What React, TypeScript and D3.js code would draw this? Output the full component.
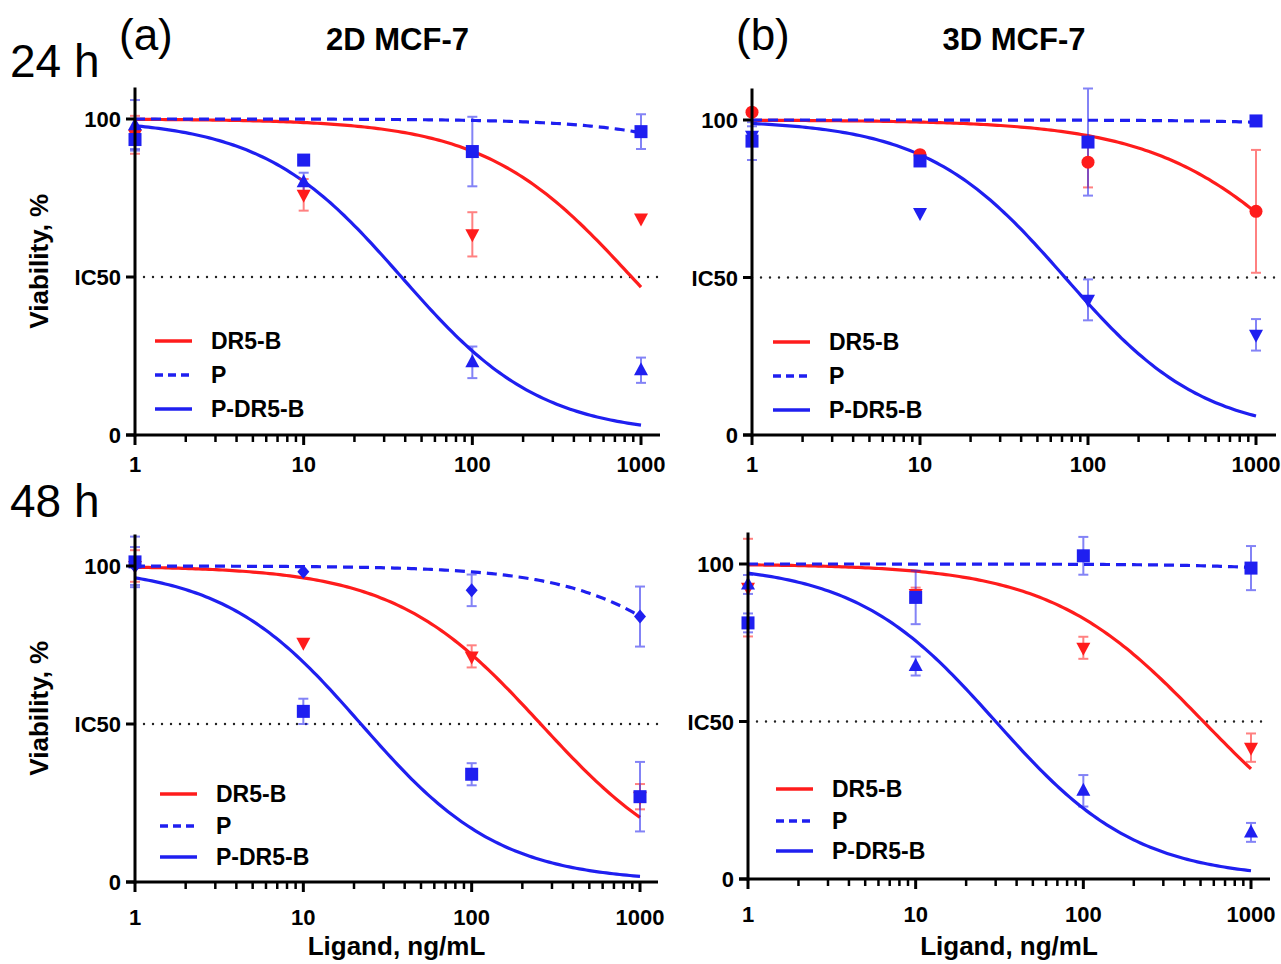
import React from "react";
import * as d3 from "d3";

// ---------- data ----------
const CONC = [1, 10, 100, 1000];
const X_TICKS = [1, 10, 100, 1000];
const Y_TICKS = [0, 50, 100];
const Y_TICK_LABELS = ["0", "IC50", "100"];
const SERIES = ["DR5-B", "P", "P-DR5-B"];
const PANEL_LETTERS = ["(a)", "(b)", "", ""];
const PANEL_TITLES = ["2D MCF-7", "3D MCF-7", "", ""];
const ROW_LABELS = ["24 h", "48 h"];

// markers per panel, order: DR5-B, P, P-DR5-B
const A_MARKERS = ["tridown", "square", "triup"];
const B_MARKERS = ["circle", "square", "tridown"];
const C_MARKERS = ["tridown", "diamond", "square"];
const D_MARKERS = ["tridown", "square", "triup"];

// (a) 24 h, 2D
const A_DR5B = [95, 76, 63.5, 68.5];
const A_DR5B_ERR = [6, 5, 7, 0];
const A_P = [93.5, 87, 89.7, 96];
const A_P_ERR = [3, 0, 11, 5.5];
const A_PDR5B = [98, 80, 23, 20.5];
const A_PDR5B_ERR = [8, 3, 5, 4];
const A_FIT_IC50 = [880, 22000, 38];
const A_FIT_HILL = [1, 1, 1.05];

// (b) 24 h, 3D
const B_DR5B = [102.5, 89, 86.6, 71];
const B_DR5B_ERR = [0, 0, 8, 19.5];
const B_P = [93.3, 87, 93, 99.7];
const B_P_ERR = [6, 0, 17, 0];
const B_PDR5B = [95, 70.5, 42.9, 31.8];
const B_PDR5B_ERR = [3, 0, 6.5, 5];
const B_FIT_IC50 = [2650, 140000, 73];
const B_FIT_HILL = [0.9, 1, 1.05];

// (c) 48 h, 2D
const C_DR5B = [100, 75.7, 71.4, 27];
const C_DR5B_ERR = [5, 0, 3.5, 4];
const C_P = [100, 98.2, 92.3, 84];
const C_P_ERR = [6, 0, 5, 9.5];
const C_PDR5B = [101.3, 54, 34.1, 27];
const C_PDR5B_ERR = [8, 4, 3.5, 11];
const C_FIT_IC50 = [257, 5300, 22];
const C_FIT_HILL = [1, 1, 1.05];

// (d) 48 h, 3D
const D_DR5B = [92.5, 90.5, 73.4, 41.7];
const D_DR5B_ERR = [15.5, 2, 3.5, 4.5];
const D_P = [81.3, 89.4, 102.6, 98.7];
const D_P_ERR = [3, 8.5, 6, 7];
const D_PDR5B = [93.5, 67.6, 28, 14.8];
const D_PDR5B_ERR = [3, 3, 5, 3];
const D_FIT_IC50 = [520, 90000, 30];
const D_FIT_HILL = [0.95, 1, 1.03];

const FIT_TOP = 100;
const FIT_BOTTOM = 0;

// ---------- styles ----------
const RED = "#ff1c1c";
const BLUE = "#1f1ff0";
const SERIES_COLORS = [RED, BLUE, BLUE];
const SERIES_DASH = [null, "10,6", null];
const FONT = "'Liberation Sans', Arial, Helvetica, sans-serif";

const PANELS = [
  { means: [A_DR5B, A_P, A_PDR5B], errs: [A_DR5B_ERR, A_P_ERR, A_PDR5B_ERR], ic50: A_FIT_IC50, hill: A_FIT_HILL, markers: A_MARKERS,
    x0: 135, x1: 641, xEnd: 660, y0: 435, y100: 119, leg: { lx: 155, rows: [341, 375, 409] }, ylab: true, xlab: false, tickY: 472 },
  { means: [B_DR5B, B_P, B_PDR5B], errs: [B_DR5B_ERR, B_P_ERR, B_PDR5B_ERR], ic50: B_FIT_IC50, hill: B_FIT_HILL, markers: B_MARKERS,
    x0: 752, x1: 1256, xEnd: 1276, y0: 435, y100: 120, leg: { lx: 773, rows: [342, 376, 410] }, ylab: false, xlab: false, tickY: 472 },
  { means: [C_DR5B, C_P, C_PDR5B], errs: [C_DR5B_ERR, C_P_ERR, C_PDR5B_ERR], ic50: C_FIT_IC50, hill: C_FIT_HILL, markers: C_MARKERS,
    x0: 135, x1: 640, xEnd: 658, y0: 882, y100: 566, leg: { lx: 160, rows: [794, 826, 857] }, ylab: true, xlab: true, tickY: 925 },
  { means: [D_DR5B, D_P, D_PDR5B], errs: [D_DR5B_ERR, D_P_ERR, D_PDR5B_ERR], ic50: D_FIT_IC50, hill: D_FIT_HILL, markers: D_MARKERS,
    x0: 748, x1: 1251, xEnd: 1270, y0: 879, y100: 564, leg: { lx: 776, rows: [789, 821, 851] }, ylab: false, xlab: true, tickY: 922 },
];

function fourPL(x: number, ic50: number, hill: number) {
  return FIT_BOTTOM + (FIT_TOP - FIT_BOTTOM) / (1 + Math.pow(x / ic50, hill));
}

function Marker({ kind, x, y, color }: { kind: string; x: number; y: number; color: string }) {
  if (kind === "square") return <rect x={x - 6.5} y={y - 6.5} width={13} height={13} fill={color} />;
  if (kind === "circle") return <circle cx={x} cy={y} r={6.5} fill={color} />;
  if (kind === "diamond") return <path d={`M${x},${y - 7}L${x + 6},${y}L${x},${y + 7}L${x - 6},${y}Z`} fill={color} />;
  if (kind === "triup") return <path d={`M${x},${y - 8}L${x + 7},${y + 5}L${x - 7},${y + 5}Z`} fill={color} />;
  return <path d={`M${x},${y + 8}L${x + 7},${y - 5}L${x - 7},${y - 5}Z`} fill={color} />;
}

function Panel({ p, idx }: { p: any; idx: number }) {
  const xs = d3.scaleLog().domain([1, 1000]).range([p.x0, p.x1]);
  const ys = d3.scaleLinear().domain([0, 100]).range([p.y0, p.y100]);
  const yTop = ys(110);
  const fitX = d3.range(0, 3.0001, 0.02).map((e) => Math.pow(10, e));
  const minor: number[] = [];
  [1, 10, 100].forEach((dec) => { for (let k = 2; k <= 9; k++) minor.push(dec * k); });

  const curves = SERIES.map((_, si) => {
    const pts = fitX.map((x) => [xs(x), ys(fourPL(x, p.ic50[si], p.hill[si]))] as [number, number]);
    return d3.line()(pts) as string;
  });

  return (
    <g>
      <line x1={p.x0} x2={p.xEnd} y1={ys(50)} y2={ys(50)} stroke="#222" strokeWidth={2.4} strokeDasharray="0,9" strokeLinecap="round" />
      {curves.map((d, si) => (
        <path key={si} d={d} fill="none" stroke={SERIES_COLORS[si]} strokeWidth={3.2} strokeDasharray={SERIES_DASH[si] || undefined} />
      ))}
      {SERIES.map((_, si) =>
        CONC.map((c, ci) => {
          const m = p.means[si][ci];
          const e = p.errs[si][ci];
          if (!e) return null;
          const x = xs(c);
          return (
            <g key={`e${si}-${ci}`} stroke={SERIES_COLORS[si]} strokeWidth={2} opacity={0.55}>
              <line x1={x} x2={x} y1={ys(m - e)} y2={ys(m + e)} />
              <line x1={x - 5} x2={x + 5} y1={ys(m - e)} y2={ys(m - e)} />
              <line x1={x - 5} x2={x + 5} y1={ys(m + e)} y2={ys(m + e)} />
            </g>
          );
        })
      )}
      {SERIES.map((_, si) =>
        CONC.map((c, ci) => (
          <Marker key={`m${si}-${ci}`} kind={p.markers[si]} x={xs(c)} y={ys(p.means[si][ci])} color={SERIES_COLORS[si]} />
        ))
      )}
      <g stroke="#000" strokeWidth={3} fill="none">
        <line x1={p.x0} x2={p.x0} y1={yTop} y2={p.y0 + 1.5} />
        <line x1={p.x0 - 9} x2={p.xEnd} y1={p.y0} y2={p.y0} />
        {Y_TICKS.map((t) => (
          <line key={t} x1={p.x0 - 9} x2={p.x0} y1={ys(t)} y2={ys(t)} />
        ))}
        {X_TICKS.map((t) => (
          <line key={t} x1={xs(t)} x2={xs(t)} y1={p.y0} y2={p.y0 + 10} />
        ))}
        {minor.map((t) => (
          <line key={"m" + t} x1={xs(t)} x2={xs(t)} y1={p.y0} y2={p.y0 + 7} strokeWidth={2.5} />
        ))}
      </g>
      {Y_TICKS.map((t, i) => (
        <text key={t} x={p.x0 - 14} y={ys(t) + 8} textAnchor="end" fontFamily={FONT} fontWeight="bold" fontSize={22}>
          {Y_TICK_LABELS[i]}
        </text>
      ))}
      {X_TICKS.map((t) => (
        <text key={t} x={xs(t)} y={p.tickY} textAnchor="middle" fontFamily={FONT} fontWeight="bold" fontSize={22}>
          {String(t)}
        </text>
      ))}
      {SERIES.map((s, si) => (
        <g key={s}>
          <line x1={p.leg.lx} x2={p.leg.lx + 37} y1={p.leg.rows[si]} y2={p.leg.rows[si]} stroke={SERIES_COLORS[si]} strokeWidth={3.5}
            strokeDasharray={SERIES_DASH[si] ? "8,5" : undefined} />
          <text x={p.leg.lx + 56} y={p.leg.rows[si] + 8} fontFamily={FONT} fontWeight="bold" fontSize={23}>{s}</text>
        </g>
      ))}
      {p.ylab && (
        <text transform={`translate(48,${(yTop + p.y0) / 2}) rotate(-90)`} textAnchor="middle" fontFamily={FONT} fontWeight="bold" fontSize={26}>
          Viability, %
        </text>
      )}
      {p.xlab && (
        <text x={(p.x0 + p.xEnd) / 2} y={955} textAnchor="middle" fontFamily={FONT} fontWeight="bold" fontSize={26}>
          Ligand, ng/mL
        </text>
      )}
      {PANEL_TITLES[idx] && (
        <text x={(p.x0 + p.xEnd) / 2} y={50} textAnchor="middle" fontFamily={FONT} fontWeight="bold" fontSize={31}>
          {PANEL_TITLES[idx]}
        </text>
      )}
      {PANEL_LETTERS[idx] && (
        <text x={p.x0 - 16} y={50} fontFamily={FONT} fontSize={44}>
          {PANEL_LETTERS[idx]}
        </text>
      )}
    </g>
  );
}

export default function App() {
  return (
    <svg width={1281} height={964} style={{ position: "absolute", left: 0, top: 0, background: "#fff" }}>
      <rect width={1281} height={964} fill="#fff" />
      <text x={10} y={77} fontFamily={FONT} fontSize={46}>{ROW_LABELS[0]}</text>
      <text x={10} y={517} fontFamily={FONT} fontSize={46}>{ROW_LABELS[1]}</text>
      {PANELS.map((p, i) => (
        <Panel key={i} p={p} idx={i} />
      ))}
    </svg>
  );
}
